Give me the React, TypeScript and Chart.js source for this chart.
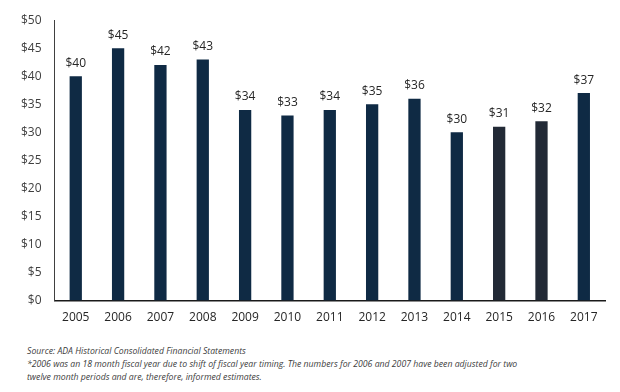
import React, { useEffect, useRef } from "react";
import { Chart, registerables } from "chart.js";

Chart.register(...registerables);

const years = ["2005", "2006", "2007", "2008", "2009", "2010", "2011", "2012", "2013", "2014", "2015", "2016", "2017"];
const values = [40, 45, 42, 43, 34, 33, 34, 35, 36, 30, 31, 32, 37];
const barColors = ["#0f2a44", "#0f2a44", "#0f2a44", "#0f2a44", "#0f2a44", "#0f2a44", "#0f2a44", "#0f2a44", "#0f2a44", "#0f2a44", "#222a36", "#222a36", "#0f2a44"];
const footnotes = [
  "Source: ADA Historical Consolidated Financial Statements",
  "*2006 was an 18 month fiscal year due to shift of fiscal year timing. The numbers for 2006 and 2007 have been adjusted for two",
  "twelve month periods and are, therefore, informed estimates.",
];

const FONT = "'Open Sans', 'DejaVu Sans', sans-serif";

const labelPlugin = {
  id: "barLabels",
  afterDatasetsDraw(chart: any) {
    const ctx = chart.ctx;
    const meta = chart.getDatasetMeta(0);
    ctx.save();
    ctx.font = `12px ${FONT}`;
    ctx.fillStyle = "#262626";
    ctx.textAlign = "center";
    ctx.textBaseline = "middle";
    meta.data.forEach((bar: any, i: number) => {
      ctx.fillText("$" + values[i], bar.x, bar.y - 13);
    });
    ctx.restore();
  },
};

export default function App() {
  const ref = useRef<HTMLCanvasElement>(null);
  useEffect(() => {
    if (!ref.current) return;
    const chart = new Chart(ref.current, {
      type: "bar",
      data: {
        labels: years,
        datasets: [{ data: values, backgroundColor: barColors, barPercentage: 0.29, categoryPercentage: 1 }],
      },
      options: {
        animation: false,
        responsive: false,
        maintainAspectRatio: false,
        layout: { padding: { left: 8, right: 15, top: 20, bottom: 0 } },
        plugins: { legend: { display: false }, tooltip: { enabled: false } },
        scales: {
          x: {
            grid: { display: false, drawTicks: false },
            border: { display: true, color: "#1a1a1a", width: 1.5 },
            ticks: { color: "#262626", font: { family: FONT, size: 12 }, padding: 10 },
          },
          y: {
            min: 0,
            max: 50,
            grid: { display: false, drawTicks: false },
            border: { display: true, color: "#404040", width: 1 },
            ticks: {
              stepSize: 5,
              color: "#404040",
              font: { family: FONT, size: 12 },
              padding: 13,
              callback: (v: any) => "$" + v,
            },
          },
        },
      },
      plugins: [labelPlugin],
    });
    return () => chart.destroy();
  }, []);
  return (
    <div style={{ position: "fixed", left: 0, top: 0, width: 620, height: 392, background: "#fff" }}>
      <canvas ref={ref} width={620} height={335} style={{ display: "block" }} />
      <div
        style={{
          position: "absolute",
          left: 27,
          top: 345,
          fontFamily: FONT,
          fontStyle: "italic",
          fontSize: 8.7,
          lineHeight: "13px",
          color: "#404040",
          whiteSpace: "nowrap",
        }}
      >
        {footnotes.map((t, i) => (
          <div key={i}>{t}</div>
        ))}
      </div>
    </div>
  );
}
